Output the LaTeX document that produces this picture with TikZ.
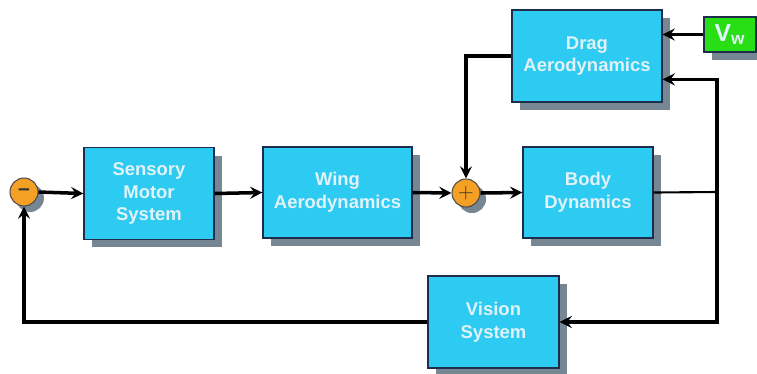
\documentclass[tikz,border=0pt]{standalone}
\usepackage{fontspec}
\setmainfont{Liberation Sans}
\usetikzlibrary{calc,shadows}
\definecolor{boxcyan}{RGB}{45,202,242}
\definecolor{boxedge}{RGB}{30,45,75}
\definecolor{shadegray}{RGB}{118,134,146}
\definecolor{sumorange}{RGB}{244,160,36}
\definecolor{windgreen}{RGB}{40,222,20}
\definecolor{labelwhite}{RGB}{225,242,248}
\tikzset{
  block/.style={draw=boxedge, line width=0.8pt, fill=boxcyan, text=labelwhite,
    font=\bfseries\fontsize{10.5}{13}\selectfont, align=center,
    minimum width=2.6cm, minimum height=1.84cm, inner sep=0pt,
    general shadow={fill=shadegray, shadow xshift=0.16cm, shadow yshift=-0.16cm}},
  junction/.style={circle, draw=black!70, line width=0.6pt, fill=sumorange,
    minimum size=0.56cm, inner sep=0pt, text=black!80, font=\bfseries\large,
    general shadow={fill=shadegray, shadow xshift=0.12cm, shadow yshift=-0.12cm}},
  link/.style={line width=2pt, line join=miter}
}
\begin{document}
\begin{tikzpicture}[x=0.02cm, y=-0.02cm, >=stealth]
			\useasboundingbox (0,0) rectangle (757,373);
			% blocks
			\node[block] (sensory) at (149,193.5) {Sensory\\Motor\\System};
			\node[block, minimum width=2.98cm, minimum height=1.82cm] (wing) at (337.5,192.5) {Wing\\Aerodynamics};
			\node[block, minimum width=3cm] (drag) at (587,56) {Drag\\Aerodynamics};
			\node[block, minimum height=1.82cm] (body) at (588,192.5) {Body\\Dynamics};
			\node[block, minimum width=2.62cm] (vision) at (493.5,322) {Vision\\System};
			\node[block, fill=windgreen, minimum width=1.04cm, minimum height=0.7cm,
				font=\bfseries\fontsize{14}{16}\selectfont] (vw) at (730,34.5) {V\textsubscript{w}};
			% summing points
			\node[junction] (minus) at (24,192) {--};
			\node[junction] (sum) at (466,193) {$+$};
			% forward path
			\draw[link,->] (minus.east) -- (sensory.west);
			\draw[link,->] (sensory.east) -- (wing.west);
			\draw[link,->] (wing.east) -- (sum.west);
			\draw[link,->] (sum.east) -- (body.west);
			\draw[link,->] (drag.west) -| (sum.north);
			\draw[link,->] (vw.west) -- (vw.west -| drag.east);
			% feedback
			\coordinate (tap) at (717,192);
			\coordinate (dragin) at ($(drag.north east)!0.75!(drag.south east)$);
			\draw[link, line width=1.2pt] (body.east) -- (tap);
			\draw[link,->] (tap) |- (dragin);
			\draw[link,->] (tap) |- (vision.east);
			\draw[link,->] (vision.west) -| (minus.south);
		\end{tikzpicture}
\end{document}
